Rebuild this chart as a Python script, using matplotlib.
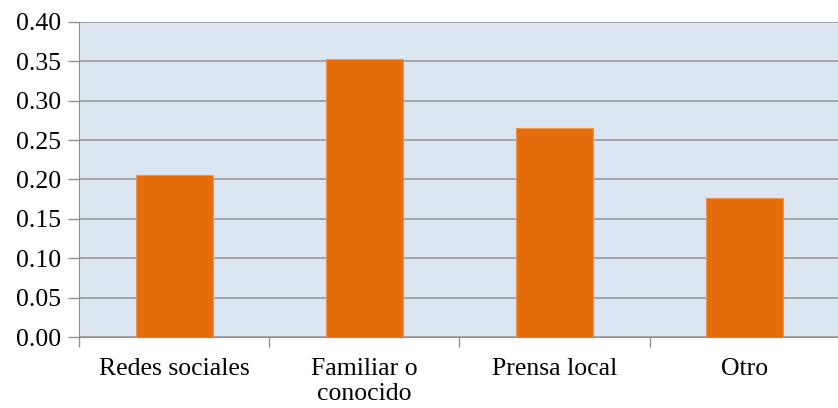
import numpy as np
import matplotlib
matplotlib.use('Agg')
import matplotlib.pyplot as plt

categories = ['Redes sociales', 'Familiar o\nconocido', 'Prensa local', 'Otro']
values = [0.206, 0.353, 0.265, 0.176]
yticks = [0.00, 0.05, 0.10, 0.15, 0.20, 0.25, 0.30, 0.35, 0.40]

plt.rcParams['font.family'] = ['Liberation Serif', 'DejaVu Serif']

fig = plt.figure(figsize=(8.38, 4.08), dpi=100)
ax = fig.add_axes([79 / 838, 1 - 337 / 408, 1 - 79 / 838 + 0.002, 315 / 408])
ax.set_facecolor('#DCE6F2')

x = np.arange(len(categories))
ax.bar(x, values, width=0.405, color='#E46C0A', edgecolor='#EE9550', linewidth=0.8, zorder=3)

ax.set_ylim(0, 0.40)
ax.set_xlim(-0.5, len(categories) - 0.5)
ax.set_yticks(yticks)
ax.set_yticklabels(['%.2f' % v for v in yticks], fontsize=18.5)
ax.yaxis.grid(True, color='#A0A0A0', linewidth=1.3, zorder=1)
ax.set_axisbelow(True)

ax.set_xticks(x)
ax.set_xticklabels(categories, fontsize=18.5, linespacing=1.2)
ax.tick_params(axis='x', length=0, pad=15)
ax.set_xticks(np.arange(len(categories) + 1) - 0.5, minor=True)
ax.tick_params(axis='x', which='minor', length=7, color='#909090', width=1)
ax.tick_params(axis='y', length=8, color='#909090', width=1, pad=5)

for s in ['top', 'right']:
    ax.spines[s].set_visible(False)
ax.spines['left'].set_color('#909090')
ax.spines['bottom'].set_color('#909090')

fig.savefig('out.png', dpi=100)
